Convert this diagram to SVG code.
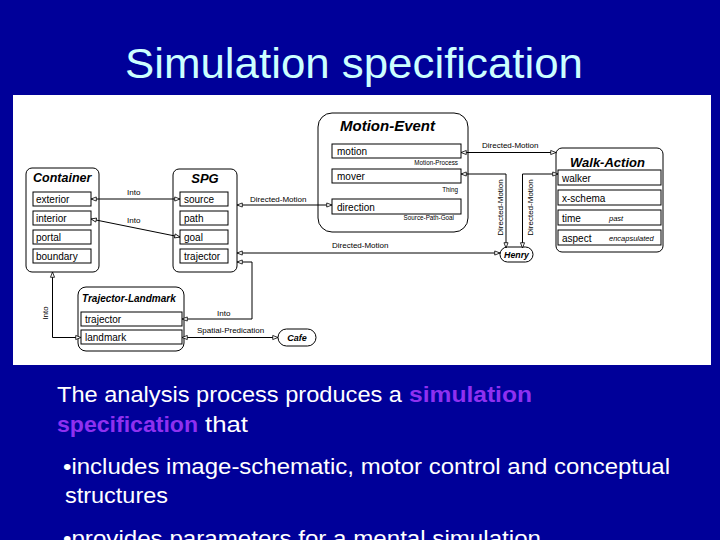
<svg xmlns="http://www.w3.org/2000/svg" width="720" height="540" viewBox="0 0 720 540">
<style>
.box{fill:#fff;stroke:#000;stroke-width:1}
.row{fill:#fff;stroke:#000;stroke-width:1}
.pill{fill:#fff;stroke:#000;stroke-width:1}
.ttl{font-family:"Liberation Sans",Arial,sans-serif;font-weight:bold;font-style:italic;fill:#000}
.rt{font-family:"Liberation Sans",Arial,sans-serif;font-size:10px;fill:#000}
.sm{font-family:"Liberation Sans",Arial,sans-serif;font-size:6.3px;fill:#000}
.cl{font-family:"Liberation Sans",Arial,sans-serif;font-size:8px;fill:#000}
.it{font-family:"Liberation Sans",Arial,sans-serif;font-size:7.5px;font-style:italic;fill:#000}
.ln{fill:none;stroke:#000;stroke-width:1;marker-start:url(#a);marker-end:url(#a)}
.body{font-family:"Liberation Sans",Arial,sans-serif;font-size:22px;fill:#fff}
.hl{font-family:"Liberation Sans",Arial,sans-serif;font-size:22px;font-weight:bold;fill:#8f30f0}
</style>
<defs>
<marker id="a" viewBox="0 0 8 8" refX="7.5" refY="4" markerWidth="6.5" markerHeight="6.5" markerUnits="userSpaceOnUse" orient="auto-start-reverse">
<path d="M1,1.5 L7.5,4 L1,6.5 Z" fill="#fff" stroke="#000" stroke-width="1"/>
</marker>
</defs>
<rect x="0" y="0" width="720" height="540" fill="#000099"/>
<text x="125" y="78" font-family="'Liberation Sans',Arial,sans-serif" font-size="43" fill="#ccffff" textLength="458" lengthAdjust="spacingAndGlyphs">Simulation specification</text>
<rect x="13" y="95" width="698" height="270" fill="#ffffff"/>

<g id="container">
<rect class="box" x="26" y="168" width="73" height="104" rx="6"/>
<text class="ttl" x="33" y="182" font-size="12.5">Container</text>
<rect class="row" x="33" y="192" width="58" height="14"/>
<text class="rt" x="36" y="203">exterior</text>
<rect class="row" x="33" y="211" width="58" height="14"/>
<text class="rt" x="36" y="222">interior</text>
<rect class="row" x="33" y="230" width="58" height="14"/>
<text class="rt" x="36" y="241">portal</text>
<rect class="row" x="33" y="249" width="58" height="14"/>
<text class="rt" x="36" y="260">boundary</text>
</g>

<g id="spg">
<rect class="box" x="173" y="169" width="64" height="103" rx="6"/>
<text class="ttl" x="205" y="183" font-size="13" text-anchor="middle">SPG</text>
<rect class="row" x="180" y="192" width="48" height="14"/>
<text class="rt" x="184" y="203">source</text>
<rect class="row" x="180" y="211" width="48" height="14"/>
<text class="rt" x="184" y="222">path</text>
<rect class="row" x="180" y="230" width="48" height="14"/>
<text class="rt" x="184" y="241">goal</text>
<rect class="row" x="180" y="249" width="48" height="14"/>
<text class="rt" x="184" y="260">trajector</text>
</g>

<g id="motion-event">
<rect class="box" x="318" y="113" width="150" height="119" rx="14"/>
<text class="ttl" x="340" y="131" font-size="15">Motion-Event</text>
<rect class="row" x="332" y="144" width="129" height="14"/>
<text class="rt" x="337" y="155" font-size="10.5">motion</text>
<text class="sm" x="458" y="165" text-anchor="end">Motion-Process</text>
<rect class="row" x="332" y="169" width="129" height="14"/>
<text class="rt" x="337" y="180" font-size="10.5">mover</text>
<text class="sm" x="458" y="192" text-anchor="end">Thing</text>
<rect class="row" x="332" y="199" width="129" height="15"/>
<text class="rt" x="337" y="211" font-size="10.5">direction</text>
<text class="sm" x="454" y="220" text-anchor="end">Source-Path-Goal</text>
</g>

<g id="walk-action">
<rect class="box" x="556" y="148" width="107" height="104" rx="6"/>
<text class="ttl" x="570" y="166.5" font-size="13">Walk-Action</text>
<rect class="row" x="558" y="170" width="103" height="15"/>
<text class="rt" x="562" y="181.5">walker</text>
<rect class="row" x="558" y="190" width="103" height="15"/>
<text class="rt" x="562" y="201.5">x-schema</text>
<rect class="row" x="558" y="210" width="103" height="15"/>
<text class="rt" x="562" y="221.5">time</text>
<text class="it" x="609" y="221">past</text>
<rect class="row" x="558" y="230" width="103" height="15"/>
<text class="rt" x="562" y="241.5">aspect</text>
<text class="it" x="609" y="241">encapsulated</text>
</g>

<g id="trajector-landmark">
<rect class="box" x="78" y="287" width="106" height="64" rx="8"/>
<text class="ttl" x="82" y="301.5" font-size="10">Trajector-Landmark</text>
<rect class="row" x="81" y="312" width="101" height="14"/>
<text class="rt" x="85" y="323">trajector</text>
<rect class="row" x="81" y="330" width="101" height="14"/>
<text class="rt" x="85" y="341">landmark</text>
</g>

<g id="henry">
<rect class="pill" x="500" y="247" width="33" height="15" rx="7.5"/>
<text class="ttl" x="516.5" y="257.5" font-size="8.8" text-anchor="middle">Henry</text>
</g>

<g id="cafe">
<rect class="pill" x="278" y="329" width="38" height="17" rx="8.5"/>
<text class="ttl" x="297" y="340.5" font-size="9" text-anchor="middle">Cafe</text>
</g>

<g id="connectors">
<path class="ln" d="M91,199 L180,199" stroke-width="1.6"/>
<text class="cl" x="127" y="195">Into</text>
<path class="ln" d="M91,219 L180,237"/>
<text class="cl" x="127" y="223">Into</text>
<path class="ln" d="M237,205 L332,205"/>
<text class="cl" x="250" y="202">Directed-Motion</text>
<path class="ln" d="M237,253 L500,253"/>
<text class="cl" x="332" y="248">Directed-Motion</text>
<path class="ln" d="M237,262 L252,262 L252,319 L182,319"/>
<text class="cl" x="217" y="316">Into</text>
<path class="ln" d="M52.5,272 L52.5,337.5 L81,337.5"/>
<text class="cl" transform="translate(47.5,313) rotate(-90)" text-anchor="middle">Into</text>
<path class="ln" d="M182,337.5 L278,337.5"/>
<text class="cl" x="197" y="333">Spatial-Predication</text>
<path class="ln" d="M461,152.5 L556,152.5"/>
<text class="cl" x="482" y="148">Directed-Motion</text>
<path class="ln" d="M461,174 L506,174 L506,248"/>
<text class="cl" transform="translate(503,207.5) rotate(-90)" text-anchor="middle">Directed-Motion</text>
<path class="ln" d="M558,174 L522.5,174 L522.5,248"/>
<text class="cl" transform="translate(533,207.5) rotate(-90)" text-anchor="middle">Directed-Motion</text>
</g>

<g id="body-text">
<text class="body" x="57" y="402" textLength="345" lengthAdjust="spacingAndGlyphs">The analysis process produces a</text>
<text class="hl" x="409" y="402" textLength="123" lengthAdjust="spacingAndGlyphs">simulation</text>
<text class="hl" x="57" y="432" textLength="141" lengthAdjust="spacingAndGlyphs">specification</text>
<text class="body" x="205" y="432" textLength="43" lengthAdjust="spacingAndGlyphs">that</text>
<text class="body" x="63" y="474" textLength="607" lengthAdjust="spacingAndGlyphs">•includes image-schematic, motor control and conceptual</text>
<text class="body" x="65" y="503" textLength="103" lengthAdjust="spacingAndGlyphs">structures</text>
<text class="body" x="63" y="546" textLength="478" lengthAdjust="spacingAndGlyphs">•provides parameters for a mental simulation</text>
</g>
</svg>
